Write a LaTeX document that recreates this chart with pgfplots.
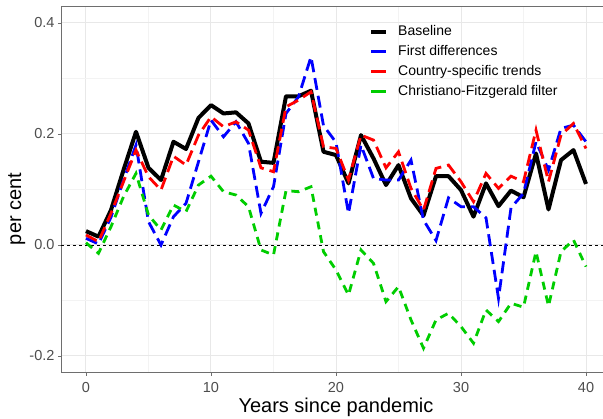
\documentclass[border=0pt]{standalone}
\usepackage{fontspec}
\setmainfont{Liberation Sans}
\usepackage{pgfplots}
\usepackage{pgfplotstable}
\pgfplotsset{compat=1.18}

\definecolor{cfgreen}{RGB}{0,205,0}
\definecolor{gridmajor}{RGB}{232,232,232}
\definecolor{gridminor}{RGB}{243,243,243}
\definecolor{panelborder}{RGB}{110,110,110}
\definecolor{ticklab}{RGB}{77,77,77}

% Estimated effects by years since the pandemic, four specifications
\pgfplotstableread{
t   base   fd      cst    cf
0   0.025  0.012   0.018  0.004
1   0.015  0.002   0.006  -0.015
2   0.063  0.050   0.057  0.033
3   0.135  0.117   0.114  0.087
4   0.204  0.180   0.171  0.129
5   0.139  0.042   0.123  0.054
6   0.117  0.000   0.099  0.027
7   0.186  0.051   0.160  0.072
8   0.173  0.075   0.144  0.060
9   0.229  0.150   0.198  0.108
10  0.252  0.225   0.231  0.124
11  0.237  0.195   0.213  0.096
12  0.239  0.222   0.222  0.090
13  0.219  0.183   0.207  0.069
14  0.150  0.057   0.139  -0.009
15  0.148  0.105   0.132  -0.018
16  0.268  0.237   0.249  0.098
17  0.268  0.267   0.261  0.096
18  0.278  0.339   0.276  0.105
19  0.168  0.215   0.177  -0.012
20  0.162  0.185   0.174  -0.045
21  0.111  0.057   0.117  -0.090
22  0.198  0.180   0.198  -0.009
23  0.156  0.120   0.189  -0.033
24  0.108  0.117   0.139  -0.102
25  0.144  0.117   0.168  -0.075
26  0.084  0.153   0.102  -0.135
27  0.053  0.045   0.063  -0.186
28  0.124  0.008   0.138  -0.135
29  0.124  0.085   0.144  -0.123
30  0.099  0.069   0.114  -0.147
31  0.051  0.069   0.078  -0.177
32  0.111  0.049   0.129  -0.117
33  0.070  -0.096  0.102  -0.138
34  0.098  0.067   0.124  -0.105
35  0.086  0.093   0.114  -0.112
36  0.165  0.186   0.207  -0.012
37  0.064  0.135   0.114  -0.110
38  0.153  0.210   0.198  -0.012
39  0.171  0.216   0.219  0.009
40  0.110  0.186   0.174  -0.039
}\results

\begin{document}
\begin{tikzpicture}
\begin{axis}[
  scale only axis,
  width=550pt, height=366.3pt,
  xmin=-2, xmax=42, ymin=-0.23, ymax=0.43,
  xtick={0,10,20,30,40},
  minor xtick={5,15,25,35},
  ytick={-0.2,0,0.2,0.4},
  yticklabels={-0.2,0.0,0.2,0.4},
  minor ytick={-0.1,0.1,0.3},
  grid=both,
  major grid style={gridmajor, line width=1pt},
  minor grid style={gridminor, line width=0.6pt},
  axis line style={panelborder, line width=0.9pt},
  tick style={panelborder, line width=0.9pt},
  tick align=outside,
  major tick length=3pt,
  minor tick length=0pt,
  xtick pos=bottom, ytick pos=left,
  /pgf/number format/assume math mode=true,
  tick label style={font=\fontsize{14.5}{16}\selectfont, text=ticklab},
  xticklabel style={yshift=-3pt},
  xlabel={Years since pandemic},
  ylabel={per cent},
  label style={font=\fontsize{20}{24}\selectfont},
  xlabel style={at={(axis description cs:0.5,-0.095)}, anchor=center},
  ylabel style={at={(axis description cs:-0.0805,0.447)}, anchor=center, rotate=0},
  legend cell align=left,
  legend image code/.code={\draw[#1, solid] (0pt,0pt) -- (15pt,0pt);},
  legend style={
    draw=none, fill=none, inner sep=0pt,
    at={(axis description cs:0.5600,0.949)}, anchor=north west,
    font=\fontsize{14}{16}\selectfont,
    nodes={inner sep=0pt, text height=10pt, text depth=3pt},
    row sep=7pt,
    /tikz/every odd column/.append style={column sep=10pt},
  },
]
\addplot[black, line width=0.8pt, dash pattern=on 3pt off 3pt, forget plot]
  coordinates {(-2,0) (42,0)};
\addplot[black, line width=4pt, line join=round] table[x=t, y=base] {\results};
\addlegendentry{Baseline}
\addplot[blue, line width=2.8pt, dash pattern=on 12pt off 6pt] table[x=t, y=fd] {\results};
\addlegendentry{First differences}
\addplot[red, line width=2.8pt, dash pattern=on 12pt off 6pt] table[x=t, y=cst] {\results};
\addlegendentry{Country-specific trends}
\addplot[cfgreen, line width=2.8pt, dash pattern=on 8pt off 6pt] table[x=t, y=cf] {\results};
\addlegendentry{Christiano-Fitzgerald filter}
\end{axis}
\pgfresetboundingbox
\path[use as bounding box] (-61pt,-46.35pt) rectangle (542pt,372.65pt);
\end{tikzpicture}
\end{document}
